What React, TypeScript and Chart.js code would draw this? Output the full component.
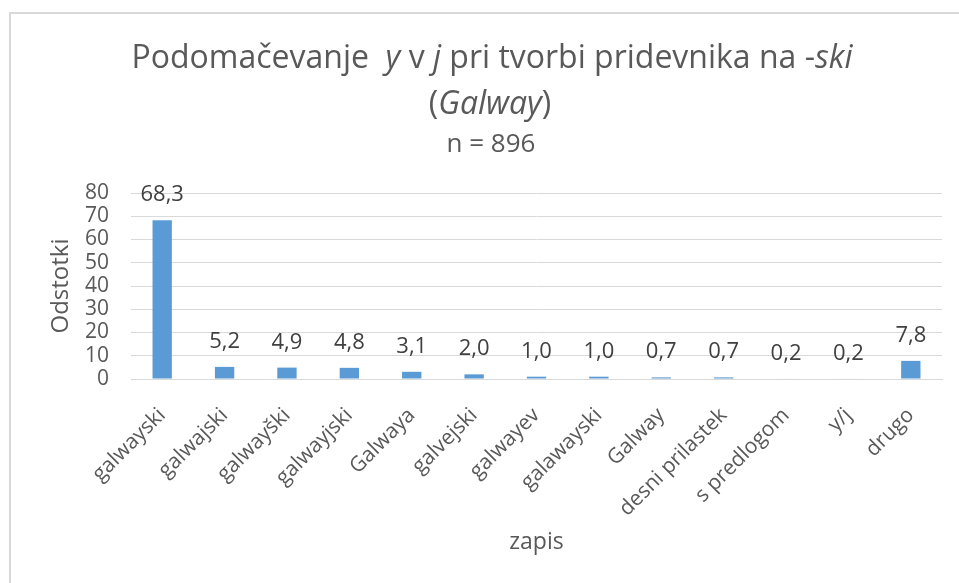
import React, { useEffect, useRef } from "react";
import { Chart, registerables } from "chart.js";

Chart.register(...registerables);

const categories = [
  "galwayski",
  "galwajski",
  "galwayški",
  "galwayjski",
  "Galwaya",
  "galvejski",
  "galwayev",
  "galawayski",
  "Galway",
  "desni prilastek",
  "s predlogom",
  "y/j",
  "drugo",
];
const percentages = [68.3, 5.2, 4.9, 4.8, 3.1, 2.0, 1.0, 1.0, 0.7, 0.7, 0.2, 0.2, 7.8];
const yTicks = [0, 10, 20, 30, 40, 50, 60, 70, 80];

const titleLine1: [string, boolean][] = [
  ["Podomačevanje  ", false],
  ["y", true],
  [" v ", false],
  ["j", true],
  [" pri tvorbi pridevnika na -", false],
  ["ski", true],
];
const titleLine2: [string, boolean][] = [
  ["(", false],
  ["Galway", true],
  [")", false],
];
const subtitleText = "n = 896";
const yAxisTitle = "Odstotki";
const xAxisTitle = "zapis";

const FONT = "'Open Sans', 'Noto Sans', sans-serif";
const TEXT = "#595959";

function drawRich(ctx: CanvasRenderingContext2D, parts: [string, boolean][], cx: number, y: number, size: number) {
  const fontFor = (it: boolean) => `${it ? "italic " : ""}${size}px ${FONT}`;
  let total = 0;
  for (const [t, it] of parts) {
    ctx.font = fontFor(it);
    total += ctx.measureText(t).width;
  }
  let x = cx - total / 2;
  ctx.textAlign = "left";
  ctx.textBaseline = "alphabetic";
  for (const [t, it] of parts) {
    ctx.font = fontFor(it);
    ctx.fillText(t, x, y);
    x += ctx.measureText(t).width;
  }
}

const richTitlePlugin = {
  id: "richTitle",
  afterDraw(chart: any) {
    const ctx = chart.ctx as CanvasRenderingContext2D;
    ctx.save();
    ctx.fillStyle = TEXT;
    drawRich(ctx, titleLine1, 492, 68, 32);
    drawRich(ctx, titleLine2, 490, 114, 32);
    ctx.font = `26px ${FONT}`;
    ctx.textAlign = "center";
    ctx.textBaseline = "alphabetic";
    ctx.fillText(subtitleText, 491, 152);
    ctx.restore();
  },
};

const valueLabelPlugin = {
  id: "valueLabels",
  afterDatasetsDraw(chart: any) {
    const ctx = chart.ctx as CanvasRenderingContext2D;
    const meta = chart.getDatasetMeta(0);
    ctx.save();
    ctx.fillStyle = "#404040";
    ctx.font = `22px ${FONT}`;
    ctx.textAlign = "center";
    ctx.textBaseline = "alphabetic";
    meta.data.forEach((bar: any, i: number) => {
      const v = percentages[i];
      ctx.fillText(v.toFixed(1).replace(".", ","), bar.x, bar.y - 19);
    });
    ctx.restore();
  },
};

export default function App() {
  const ref = useRef<HTMLCanvasElement | null>(null);
  useEffect(() => {
    if (!ref.current) return;
    const chart = new Chart(ref.current, {
      type: "bar",
      data: {
        labels: categories,
        datasets: [
          {
            data: percentages,
            backgroundColor: "#5B9BD5",
            barPercentage: 0.31,
            categoryPercentage: 1,
          },
        ],
      },
      options: {
        animation: false,
        responsive: false,
        maintainAspectRatio: false,
        layout: { padding: { top: 193, right: 17, left: 0, bottom: 0 } },
        plugins: {
          legend: { display: false },
          tooltip: { enabled: false },
          title: { display: false },
        },
        scales: {
          x: {
            grid: { display: false, drawTicks: false },
            border: { display: true, color: "#D9D9D9", width: 1 },
            ticks: {
              color: TEXT,
              font: { family: FONT, size: 21 },
              minRotation: 45,
              maxRotation: 45,
              padding: 24,
              autoSkip: false,
            },
            title: {
              display: true,
              text: xAxisTitle,
              color: TEXT,
              font: { family: FONT, size: 23 },
              padding: { top: 0, bottom: 27 },
            },
            afterFit(scale: any) {
              scale.height = 204;
            },
          },
          y: {
            min: 0,
            max: 80,
            afterBuildTicks(scale: any) {
              scale.ticks = yTicks.map((v) => ({ value: v }));
            },
            grid: { color: "#D9D9D9", drawTicks: false, lineWidth: 1 },
            border: { display: false },
            ticks: {
              color: TEXT,
              font: { family: FONT, size: 21 },
              padding: 22,
              autoSkip: false,
            },
            title: {
              display: true,
              text: yAxisTitle,
              color: TEXT,
              font: { family: FONT, size: 24 },
              padding: { top: 47, bottom: 0 },
            },
            afterFit(scale: any) {
              scale.width = 131;
            },
          },
        },
      },
      plugins: [richTitlePlugin, valueLabelPlugin],
    });
    return () => chart.destroy();
  }, []);

  return (
    <div style={{ position: "fixed", left: 0, top: 0, width: 959, height: 583, background: "#fff", overflow: "hidden" }}>
      <div
        style={{
          position: "absolute",
          left: 9,
          top: 12,
          width: 960,
          height: 600,
          borderTop: "2px solid #D9D9D9",
          borderLeft: "2px solid #D9D9D9",
        }}
      />
      <canvas ref={ref} width={959} height={583} style={{ position: "absolute", left: 0, top: 0 }} />
    </div>
  );
}
